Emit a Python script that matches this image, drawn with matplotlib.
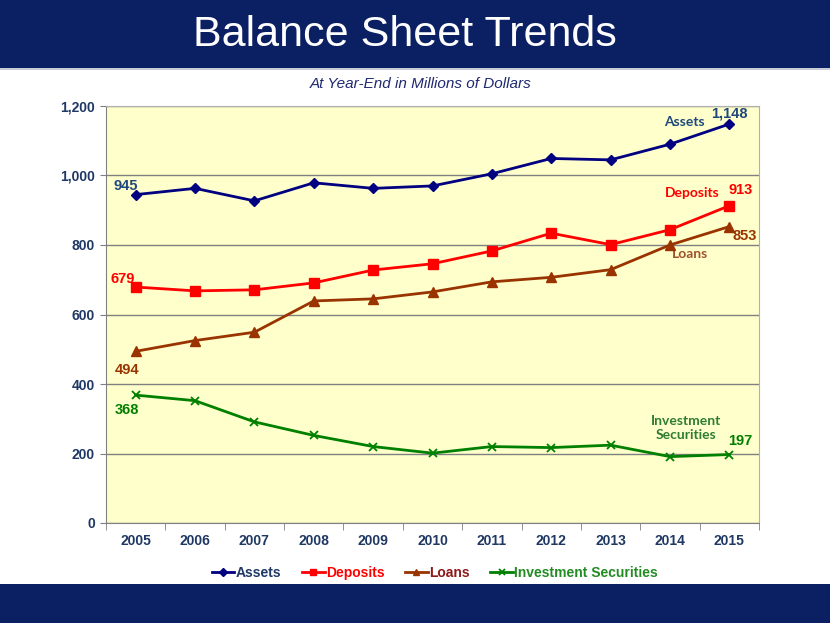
import matplotlib
matplotlib.use("Agg")
import matplotlib.pyplot as plt
from matplotlib.patches import Rectangle
import numpy as np

years = [2005, 2006, 2007, 2008, 2009, 2010, 2011, 2012, 2013, 2014, 2015]
assets = [945, 963, 927, 979, 963, 970, 1005, 1049, 1045, 1090, 1148]
deposits = [679, 668, 671, 691, 728, 746, 783, 834, 801, 844, 913]
loans = [494, 525, 549, 639, 645, 665, 694, 707, 729, 800, 853]
invest = [368, 352, 291, 252, 220, 201, 220, 217, 224, 191, 197]
y_ticks = [0, 200, 400, 600, 800, 1000, 1200]
y_tick_labels = ["0", "200", "400", "600", "800", "1,000", "1,200"]

NAVY_BAND = "#0b1f63"
TICK_C = "#1f3864"

fig = plt.figure(figsize=(8.3, 6.23), dpi=100)
fig.patch.set_facecolor("white")

# header and footer bands
fig.add_artist(Rectangle((0, 1 - 68/623), 1, 68/623, transform=fig.transFigure,
                         facecolor=NAVY_BAND, edgecolor="none", zorder=0))
fig.add_artist(Rectangle((0, 1 - 70/623), 1, 2/623, transform=fig.transFigure,
                         facecolor="#c8ccd8", edgecolor="none", zorder=0))
fig.add_artist(Rectangle((0, 0), 1, 39/623, transform=fig.transFigure,
                         facecolor=NAVY_BAND, edgecolor="none", zorder=0))
fig.text(405/830, 1 - 35/623, "Balance Sheet Trends", color="white",
         fontsize=31, family="Liberation Sans", ha="center", va="center")
fig.text(421/830, 1 - 84/623, "At Year-End in Millions of Dollars", color="#1f2a70",
         fontsize=11, style="italic", family="Liberation Sans", ha="center", va="center")

ax = fig.add_axes([106/830, 1 - 523/623, 653/830, 417/623])
ax.set_facecolor("#ffffcc")
ax.set_xlim(2004.5, 2015.5)
ax.set_ylim(0, 1200)
ax.set_yticks(y_ticks)
ax.set_yticklabels(y_tick_labels)
ax.set_xticks(years)
ax.set_xticklabels([str(y) for y in years])
ax.set_xticks(np.array([years[0] - 1] + years) + 0.5, minor=True)
ax.tick_params(axis="x", which="major", length=0, pad=8)
ax.tick_params(axis="x", which="minor", length=5, direction="out", color="#808080")
ax.tick_params(axis="y", length=4, direction="out", color="#808080", pad=4)
for lab in ax.get_xticklabels() + ax.get_yticklabels():
    lab.set_fontweight("bold")
    lab.set_color(TICK_C)
    lab.set_fontsize(10)
    lab.set_family("Liberation Sans")
ax.yaxis.grid(True, color="#808080", lw=1)
ax.set_axisbelow(True)
for s in ["top", "right"]:
    ax.spines[s].set_color("#b0b0b0")
for s in ["left", "bottom"]:
    ax.spines[s].set_color("#808080")

ax.plot(years, assets, color="#000080", lw=2, marker="D", ms=5, label="Assets", zorder=5)
ax.plot(years, deposits, color="#ff0000", lw=2, marker="s", ms=7.5, label="Deposits", zorder=5)
ax.plot(years, loans, color="#993300", lw=2, marker="^", ms=6.5, label="Loans", zorder=5)
ax.plot(years, invest, color="#008000", lw=2, marker="x", ms=6, mew=1.3,
        label="Investment Securities", zorder=5)

def lab(x, y, txt, dx, dy, color, fam="Lato", size=10):
    ax.annotate(txt, xy=(x, y), xytext=(dx, dy), textcoords="offset points",
                ha="center", va="center", color=color, fontweight="bold",
                fontsize=size, family=fam)

lab(years[0], assets[0], f"{assets[0]:,}", -7, 6, "#1f497d", "Liberation Sans", 10.5)
lab(years[-1], assets[-1], f"{assets[-1]:,}", 0, 7.5, "#1f497d", "Liberation Sans", 10.5)
lab(years[-1], assets[-1], "Assets", -32, 1.5, "#1f497d", "Lato", 10)
lab(years[0], deposits[0], f"{deposits[0]:,}", -9, 6, "#ff0000", "Liberation Sans", 10.5)
lab(years[-1], deposits[-1], f"{deposits[-1]:,}", 8, 11.5, "#ff0000", "Liberation Sans", 10.5)
lab(years[-1], deposits[-1], "Deposits", -27, 9.5, "#ff0000", "Lato", 10)
lab(years[0], loans[0], f"{loans[0]:,}", -6, -13.5, "#993300", "Liberation Sans", 10.5)
lab(years[-1], loans[-1], f"{loans[-1]:,}", 11, -7, "#993300", "Liberation Sans", 10.5)
lab(years[-1], loans[-1], "Loans", -28, -20, "#a0522d", "Lato", 10)
lab(years[0], invest[0], f"{invest[0]:,}", -6, -11, "#008000", "Liberation Sans", 10.5)
lab(years[-1], invest[-1], f"{invest[-1]:,}", 8, 9.5, "#008000", "Liberation Sans", 10.5)
lab(years[-1], invest[-1], "Investment\nSecurities", -31, 19, "#2e7d32", "Lato", 10)

leg = fig.legend(loc="center", bbox_to_anchor=(435/830, 1 - 573/623), ncol=4,
                 frameon=False, handlelength=1.6, handletextpad=0.1, columnspacing=1.5,
                 prop={"family": "Liberation Sans", "weight": "bold", "size": 10})
leg_colors = ["#1f3864", "#ff0000", "#8b1a1a", "#228b22"]
for t, c in zip(leg.get_texts(), leg_colors):
    t.set_color(c)
for h in leg.legend_handles:
    h.set_markersize(4)

fig.savefig("out.png", dpi=100)
